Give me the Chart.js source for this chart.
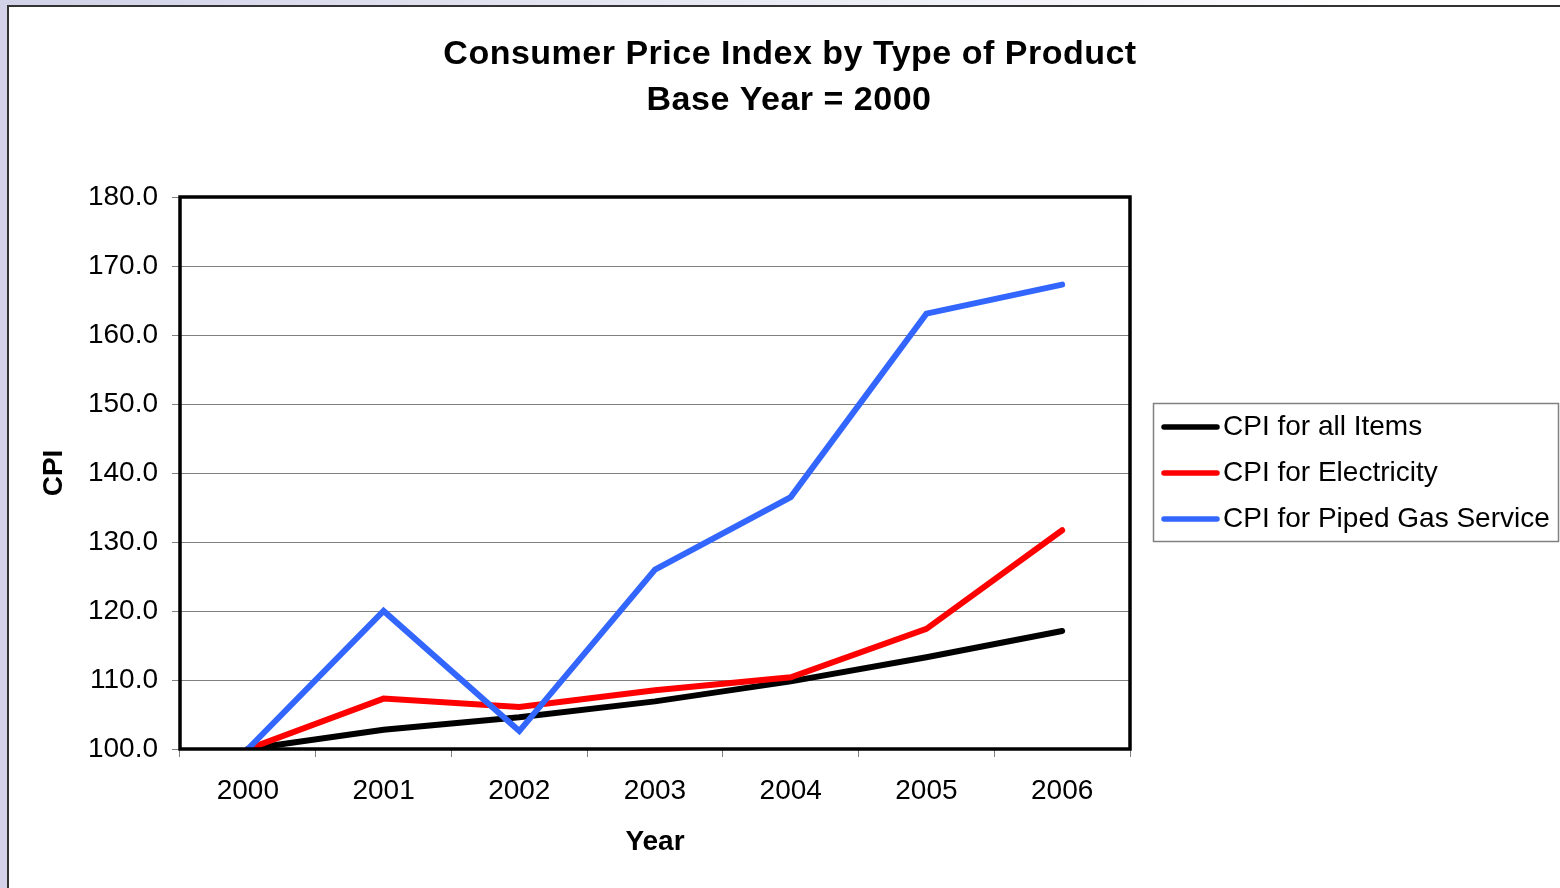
<!DOCTYPE html>
<html>
<head>
<meta charset="utf-8">
<script src="https://cdn.jsdelivr.net/npm/chart.js@4/dist/chart.umd.min.js"></script>
<style>
  html, body { margin: 0; padding: 0; background: #fff; }
  #wrap { width: 1560px; height: 888px; }
</style>
</head>
<body>
<div id="wrap"><canvas id="cpi" width="1560" height="888"></canvas></div>
<script>
// Category labels (years)
const years = ['2000', '2001', '2002', '2003', '2004', '2005', '2006'];

// Index values, base year 2000 = 100
const cpiAllItems = [100.0, 102.8, 104.6, 106.9, 109.8, 113.3, 117.1];
const cpiElectricity = [100.0, 107.3, 106.1, 108.5, 110.4, 117.4, 131.7];
const cpiPipedGas = [100.0, 120.0, 102.6, 126.0, 136.5, 163.1, 167.3];

// Series names
const seriesNames = ['CPI for all Items', 'CPI for Electricity', 'CPI for Piped Gas Service'];
const seriesColors = ['#000000', '#ff0000', '#3366ff'];

// Title lines
const titleLines = ['Consumer Price Index by Type of Product', 'Base Year = 2000'];

// Value axis range
const yMin = 100, yMax = 180, yStep = 10;

const FONT = "'Liberation Sans', Arial, sans-serif";
Chart.defaults.font.family = FONT;
Chart.defaults.color = '#000';

// Window frame and background
const framePlugin = {
  id: 'frame',
  beforeDraw(chart) {
    const ctx = chart.ctx, w = chart.width, h = chart.height;
    ctx.save();
    const g = ctx.createLinearGradient(0, 0, 1400, 0);
    g.addColorStop(0, '#d2d2e8');
    g.addColorStop(1, '#ffffff');
    ctx.fillStyle = g;
    ctx.fillRect(0, 0, w, h);
    ctx.fillStyle = '#ffffff';
    ctx.fillRect(8, 6, w - 8, h - 6);
    ctx.strokeStyle = '#333333';
    ctx.lineWidth = 2;
    ctx.beginPath();
    ctx.moveTo(8, h);
    ctx.lineTo(8, 6);
    ctx.lineTo(w, 6);
    ctx.stroke();
    ctx.restore();
  }
};

// Two-line chart heading
const headingPlugin = {
  id: 'heading',
  afterDraw(chart) {
    const ctx = chart.ctx;
    ctx.save();
    ctx.fillStyle = '#000';
    ctx.font = 'bold 34px ' + FONT;
    ctx.textAlign = 'center';
    ctx.textBaseline = 'middle';
    if ('letterSpacing' in ctx) ctx.letterSpacing = '0.5px';
    ctx.fillText(titleLines[0], 790, 55);
    ctx.fillText(titleLines[1], 789, 101);
    ctx.restore();
  }
};

// Heavy frame around the plot area
const plotBorderPlugin = {
  id: 'plotBorder',
  afterDatasetsDraw(chart) {
    const {left, top, right, bottom} = chart.chartArea;
    const ctx = chart.ctx;
    ctx.save();
    ctx.strokeStyle = '#000';
    ctx.lineWidth = 3.5;
    ctx.strokeRect(left, top, right - left, bottom - top);
    ctx.restore();
  }
};

// Boxed legend with line samples
const lineLegendPlugin = {
  id: 'lineLegend',
  afterDraw(chart) {
    const ctx = chart.ctx;
    const x0 = 1153, y0 = 403, bw = 405, bh = 138;
    ctx.save();
    ctx.strokeStyle = '#808080';
    ctx.lineWidth = 1.5;
    ctx.strokeRect(x0 + 0.5, y0 + 0.5, bw, bh);
    ctx.font = '28px ' + FONT;
    ctx.textBaseline = 'middle';
    ctx.textAlign = 'left';
    chart.data.datasets.forEach((ds, i) => {
      const y = y0 + 24 + i * 46;
      ctx.strokeStyle = ds.borderColor;
      ctx.lineWidth = 5.5;
      ctx.lineCap = 'round';
      ctx.beginPath();
      ctx.moveTo(x0 + 11, y);
      ctx.lineTo(x0 + 64, y);
      ctx.stroke();
      ctx.fillStyle = '#000';
      ctx.fillText(ds.label, x0 + 70, y);
    });
    ctx.restore();
  }
};

const seriesData = [cpiAllItems, cpiElectricity, cpiPipedGas];
const datasets = seriesData.map((values, i) => ({
  label: seriesNames[i],
  data: values,
  borderColor: seriesColors[i],
  backgroundColor: seriesColors[i],
  borderWidth: 6,
  borderCapStyle: 'round',
  pointRadius: 0,
  pointHoverRadius: 0,
  tension: 0,
  fill: false,
  order: seriesData.length - i
}));

new Chart(document.getElementById('cpi'), {
  type: 'line',
  data: { labels: years, datasets },
  options: {
    responsive: false,
    animation: false,
    devicePixelRatio: 1,
    layout: { padding: { top: 197, right: 430, left: 0, bottom: 0 } },
    plugins: {
      legend: { display: false },
      title: { display: false },
      tooltip: { enabled: false }
    },
    scales: {
      x: {
        type: 'category',
        offset: true,
        grid: {
          offset: true,
          drawOnChartArea: false,
          drawTicks: true,
          tickLength: 8,
          color: '#808080',
          lineWidth: 1
        },
        border: { display: false },
        ticks: { font: { size: 28 }, color: '#000', padding: 17, maxRotation: 0 },
        title: {
          display: true,
          text: 'Year',
          font: { size: 28, weight: 'bold' },
          color: '#000',
          padding: { top: 0, bottom: 29 }
        },
        afterFit(scale) { scale.height = 139; }
      },
      y: {
        min: yMin,
        max: yMax,
        ticks: {
          stepSize: yStep,
          font: { size: 28 },
          color: '#000',
          padding: 14,
          callback: (v) => Number(v).toFixed(1)
        },
        grid: {
          color: '#808080',
          lineWidth: 1,
          tickLength: 8,
          drawTicks: true
        },
        border: { display: false },
        title: {
          display: true,
          text: 'CPI',
          font: { size: 28, weight: 'bold' },
          color: '#000',
          padding: { top: 37, bottom: 0 }
        },
        afterFit(scale) { scale.width = 180; }
      }
    }
  },
  plugins: [framePlugin, headingPlugin, plotBorderPlugin, lineLegendPlugin]
});
</script>
</body>
</html>
